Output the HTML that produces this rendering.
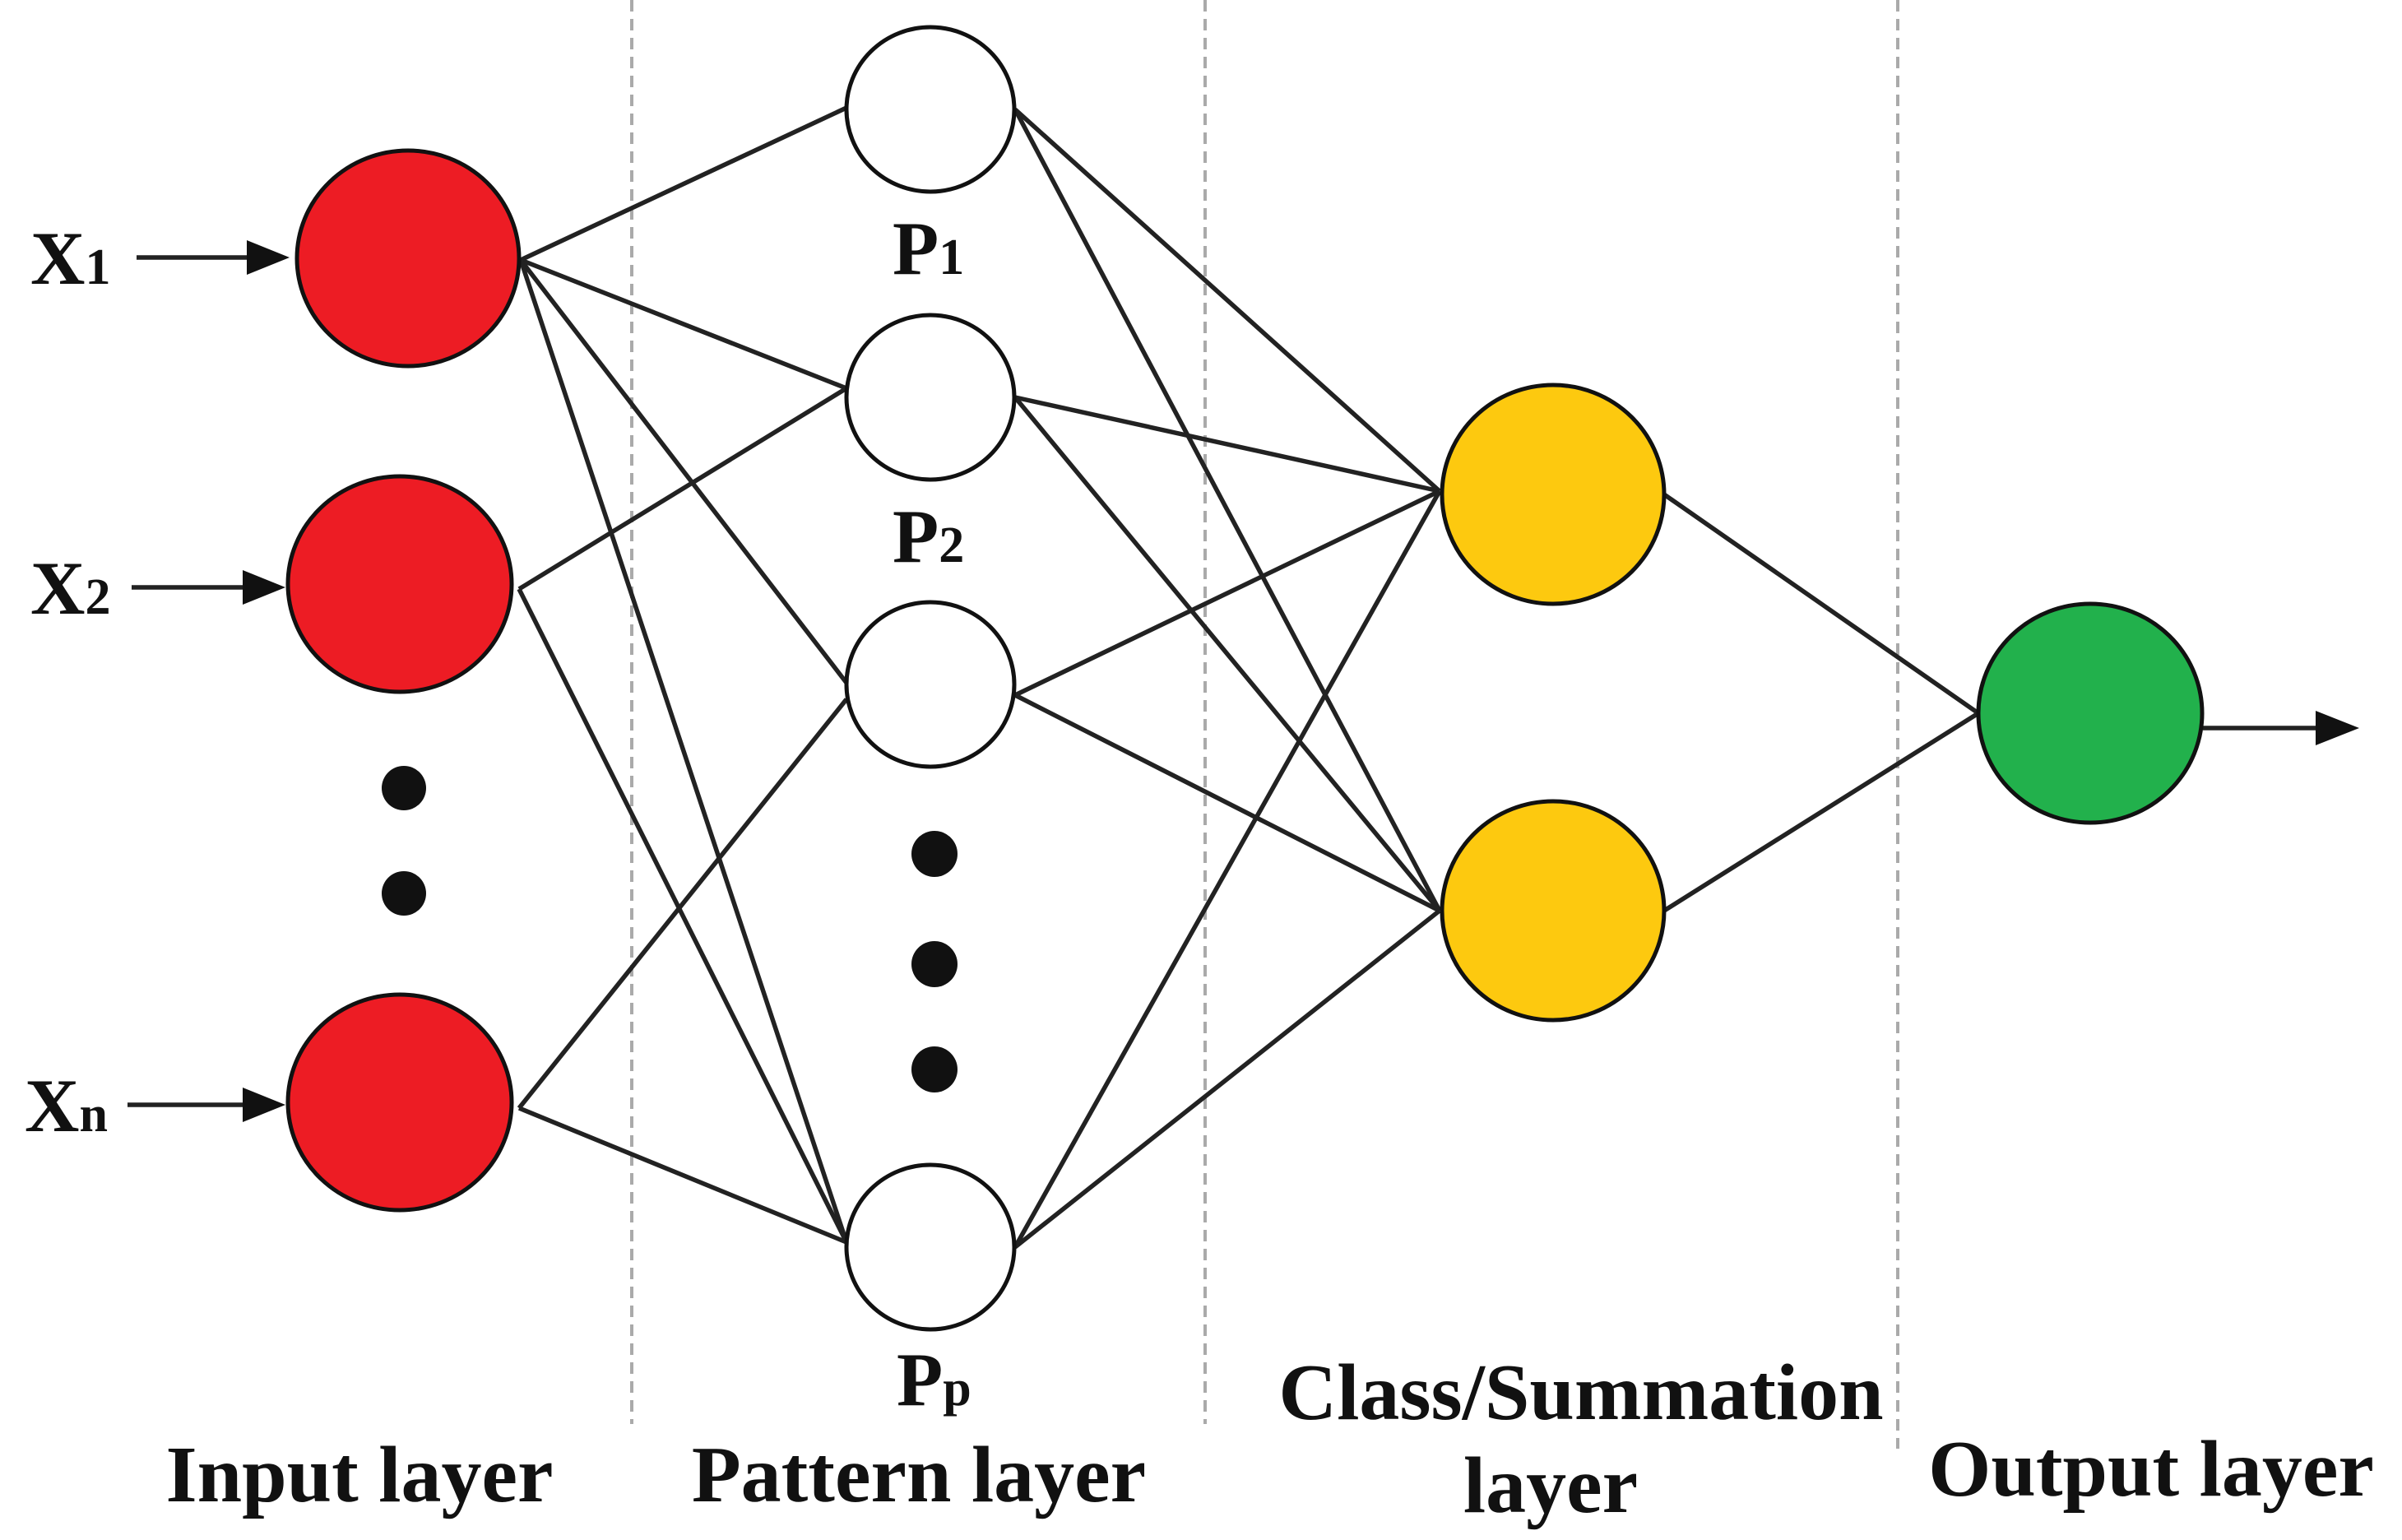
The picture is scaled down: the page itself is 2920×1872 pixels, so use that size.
<!DOCTYPE html>
<html><head><meta charset="utf-8"><style>html,body{margin:0;padding:0;background:#fff}svg{display:block}</style></head>
<body>
<svg width="2920" height="1872" viewBox="0 0 2920 1872" xmlns="http://www.w3.org/2000/svg" font-family="'Liberation Serif', serif" font-weight="bold">
<rect width="2920" height="1872" fill="#fff"/>
<g stroke="#aaa" stroke-width="4" stroke-dasharray="14,9">
<line x1="768" y1="0" x2="768" y2="1731"/>
<line x1="1465" y1="0" x2="1465" y2="1731"/>
<line x1="2307" y1="0" x2="2307" y2="1761"/>
</g>
<g stroke="#222" stroke-width="5.5" fill="none">
<line x1="633" y1="316" x2="1029" y2="131"/>
<line x1="633" y1="316" x2="1029" y2="472"/>
<line x1="633" y1="316" x2="1029" y2="830"/>
<line x1="633" y1="316" x2="1029" y2="1510"/>
<line x1="631" y1="716" x2="1029" y2="472"/>
<line x1="631" y1="716" x2="1029" y2="1510"/>
<line x1="631" y1="1347" x2="1029" y2="850"/>
<line x1="631" y1="1347" x2="1029" y2="1510"/>
<line x1="1234" y1="133" x2="1750" y2="597"/>
<line x1="1234" y1="133" x2="1750" y2="1107"/>
<line x1="1234" y1="483" x2="1750" y2="597"/>
<line x1="1234" y1="483" x2="1750" y2="1107"/>
<line x1="1234" y1="845" x2="1750" y2="597"/>
<line x1="1234" y1="845" x2="1750" y2="1107"/>
<line x1="1234" y1="1516" x2="1750" y2="597"/>
<line x1="1234" y1="1516" x2="1750" y2="1107"/>
<line x1="2023" y1="601" x2="2405" y2="867"/>
<line x1="2023" y1="1107" x2="2405" y2="867"/>
<line x1="166" y1="313" x2="310" y2="313"/>
<line x1="160" y1="714" x2="305" y2="714"/>
<line x1="155" y1="1343" x2="305" y2="1343"/>
<line x1="2678" y1="885" x2="2820" y2="885"/>
</g>
<g fill="#111">
<polygon points="352,313 300,292 300,334"/>
<polygon points="347,714 295,693 295,735"/>
<polygon points="347,1343 295,1322 295,1364"/>
<polygon points="2868,885 2815,864 2815,906"/>
<circle cx="491" cy="958" r="27"/><circle cx="491" cy="1086" r="27"/>
<circle cx="1136" cy="1038" r="28"/><circle cx="1136" cy="1172" r="28"/><circle cx="1136" cy="1300" r="28"/>
</g>
<g stroke="#111" stroke-width="5">
<ellipse cx="496" cy="314" rx="135" ry="131" fill="#ed1c24"/>
<ellipse cx="486" cy="710" rx="136" ry="131" fill="#ed1c24"/>
<ellipse cx="486" cy="1340" rx="136" ry="131" fill="#ed1c24"/>
<ellipse cx="1131" cy="133" rx="102" ry="100" fill="#fff"/>
<ellipse cx="1131" cy="483" rx="102" ry="100" fill="#fff"/>
<ellipse cx="1131" cy="832" rx="102" ry="100" fill="#fff"/>
<ellipse cx="1131" cy="1516" rx="102" ry="100" fill="#fff"/>
<ellipse cx="1888" cy="601" rx="135" ry="133" fill="#fdc90f"/>
<ellipse cx="1888" cy="1107" rx="135" ry="133" fill="#fdc90f"/>
<ellipse cx="2541" cy="867" rx="136" ry="133" fill="#22b14c"/>
</g>
<g fill="#111" font-size="92">
<text x="37" y="345">X<tspan font-size="62">1</tspan></text>
<text x="37" y="746">X<tspan font-size="62">2</tspan></text>
<text x="30" y="1375">X<tspan font-size="62">n</tspan></text>
<text x="1085" y="333">P<tspan font-size="62">1</tspan></text>
<text x="1085" y="683">P<tspan font-size="62">2</tspan></text>
<text x="1090" y="1708">P<tspan font-size="62">p</tspan></text>
</g>
<g fill="#111" font-size="98" text-anchor="middle">
<text x="437" y="1825">Input layer</text>
<text x="1117" y="1825">Pattern layer</text>
<text x="1922" y="1725">Class/Summation</text>
<text x="1885" y="1838">layer</text>
<text x="2615" y="1818">Output layer</text>
</g>
</svg>
</body></html>
